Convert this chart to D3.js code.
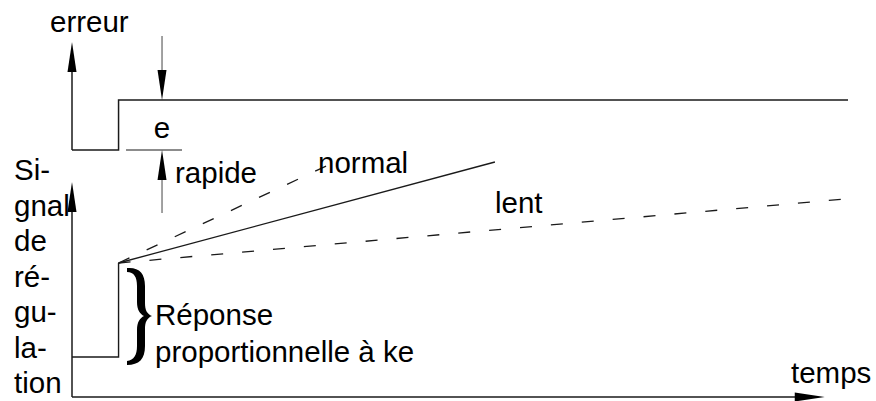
<!DOCTYPE html>
<html>
<head>
<meta charset="utf-8">
<script src="https://cdn.jsdelivr.net/npm/d3@7"></script>
<style>
  body { margin: 0; background: #fff; }
  text { font-family: "Liberation Sans", Arial, sans-serif; font-size: 29.5px; fill: #000; }
</style>
</head>
<body>
<div id="chart"></div>
<script>
// Régulation : erreur en échelon, réponse proportionnelle puis intégrale
var width = 876;
var height = 401;

// time axis (arbitrary units)
var timeDomain = [0, 100];
var timeAxisEnd = 97;

// error signal: step of amplitude e
var errTimes = [0, 6, 6, 100];
var errValues = [0, 0, 1, 1];
var errAxisTop = 2.16;

// control signal before and at the step (proportional part)
var sigTimes = [0, 6, 6];
var sigValues = [2, 2, 6.7];
var sigAxisTop = 10.75;

// integral part: three speeds
var speedNames = ["rapide", "normal", "lent"];
var speedEndTimes = [33.6, 54.5, 99.6];
var speedEndValues = [11.7, 11.75, 9.9];
var speedDashed = [true, false, true];

// vertical label, hyphenated like the original
var yLabelLines = ["Si-", "gnal", "de", "ré-", "gu-", "la-", "tion"];

var svg = d3.select("#chart").append("svg")
  .attr("width", width)
  .attr("height", height);

var x = d3.scaleLinear().domain(timeDomain).range([72, 848]);
var yErr = d3.scaleLinear().domain([0, 1]).range([150, 100]);
var ySig = d3.scaleLinear().domain([0, 10]).range([397, 197]);

var ink = "#1a1a1a";

// draw an arrow head, tip at (tx, ty), pointing "up", "down" or "right"
function arrowHead(tx, ty, dir, color) {
  var len = 30, half = 4.5, pts;
  if (dir === "up") pts = [[tx, ty], [tx - half, ty + len], [tx + half, ty + len]];
  else if (dir === "down") pts = [[tx, ty], [tx - half, ty - len], [tx + half, ty - len]];
  else pts = [[tx, ty], [tx - len, ty - half], [tx - len, ty + half]];
  svg.append("polygon")
    .attr("points", pts.map(function(p) { return p.join(","); }).join(" "))
    .attr("fill", color || "#000");
}

// --- axes ---
// error axis
svg.append("line")
  .attr("x1", x(0)).attr("x2", x(0))
  .attr("y1", yErr(0)).attr("y2", yErr(errAxisTop) + 10)
  .attr("stroke", ink).attr("stroke-width", 1.5);
arrowHead(x(0), yErr(errAxisTop), "up");

// signal axis
svg.append("line")
  .attr("x1", x(0)).attr("x2", x(0))
  .attr("y1", ySig(0)).attr("y2", ySig(sigAxisTop) + 10)
  .attr("stroke", ink).attr("stroke-width", 1.5);
arrowHead(x(0), ySig(sigAxisTop), "up");

// time axis
svg.append("line")
  .attr("x1", x(0)).attr("x2", x(timeAxisEnd) - 10)
  .attr("y1", ySig(0)).attr("y2", ySig(0))
  .attr("stroke", ink).attr("stroke-width", 1.5);
arrowHead(x(timeAxisEnd), ySig(0), "right");

// --- error step ---
var errLine = d3.line()
  .x(function(d, i) { return x(errTimes[i]); })
  .y(function(d) { return yErr(d); });

svg.append("path")
  .attr("d", errLine(errValues))
  .attr("fill", "none")
  .attr("stroke", ink)
  .attr("stroke-width", 1.5);

// --- control signal: proportional step ---
var sigLine = d3.line()
  .x(function(d, i) { return x(sigTimes[i]); })
  .y(function(d) { return ySig(d); });

svg.append("path")
  .attr("d", sigLine(sigValues))
  .attr("fill", "none")
  .attr("stroke", ink)
  .attr("stroke-width", 1.4);

// --- integral ramps ---
var t0 = sigTimes[sigTimes.length - 1];
var v0 = sigValues[sigValues.length - 1];
speedNames.forEach(function(name, i) {
  svg.append("line")
    .attr("class", "ramp " + name)
    .attr("x1", x(t0)).attr("y1", ySig(v0))
    .attr("x2", x(speedEndTimes[i])).attr("y2", ySig(speedEndValues[i]))
    .attr("stroke", ink)
    .attr("stroke-width", 1.3)
    .attr("stroke-dasharray", speedDashed[i] ? "12,19" : null);
});

// --- amplitude e markers ---
var eX = x(11.6);
svg.append("line")
  .attr("x1", eX).attr("x2", eX)
  .attr("y1", 36).attr("y2", yErr(1) - 20)
  .attr("stroke", "#444").attr("stroke-width", 1);
arrowHead(eX, yErr(1), "down");

svg.append("line")
  .attr("x1", eX - 36).attr("x2", eX + 20)
  .attr("y1", yErr(0)).attr("y2", yErr(0))
  .attr("stroke", "#666").attr("stroke-width", 1.5);
svg.append("line")
  .attr("x1", eX).attr("x2", eX)
  .attr("y1", 213).attr("y2", yErr(0) + 20)
  .attr("stroke", "#444").attr("stroke-width", 1);
arrowHead(eX, yErr(0), "up");

svg.append("text").attr("x", eX).attr("y", 138)
  .attr("text-anchor", "middle").text("e");

// --- brace for proportional response (filled, tapered) ---
svg.append("path")
  .attr("d",
    "M127,268 C139,267 145,273 145,286 L145,303 C145,310 147,314 152,316" +
    " C147,318 145,322 145,329 L145,346 C145,359 139,365 127,365" +
    " L127,361 C134,360 137,355 137,346 L137,330 C137,322 140,318 144,316" +
    " C140,314 137,310 137,302 L137,286 C137,277 134,272 127,272 Z")
  .attr("fill", "#000");

// --- labels ---
svg.append("text").attr("x", 50).attr("y", 32).text("erreur");
svg.append("text").attr("x", 175).attr("y", 183).text("rapide");
svg.append("text").attr("x", 318).attr("y", 173).text("normal");
svg.append("text").attr("x", 495).attr("y", 213).text("lent");
svg.append("text").attr("x", 791).attr("y", 383).text("temps");
svg.append("text").attr("x", 155).attr("y", 325).text("Réponse");
svg.append("text").attr("x", 155).attr("y", 362).text("proportionnelle à ke");

svg.append("g").selectAll("text")
  .data(yLabelLines)
  .enter()
  .append("text")
  .attr("x", 14)
  .attr("y", function(d, i) { return 180 + i * 35.5; })
  .text(function(d) { return d; });
</script>
</body>
</html>
